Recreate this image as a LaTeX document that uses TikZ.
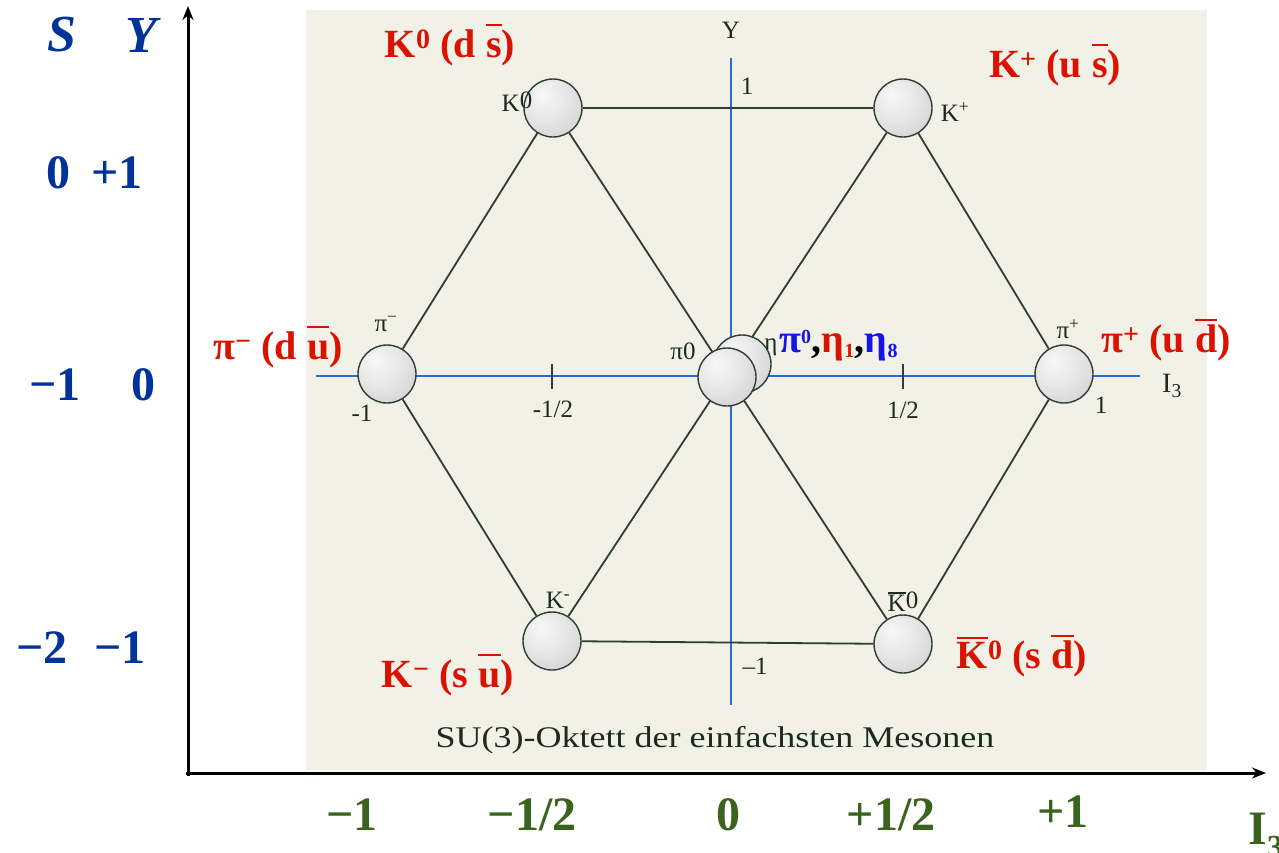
\documentclass[tikz,border=0pt]{standalone}
\usepackage{fontspec}
\setmainfont{Liberation Serif}
\usetikzlibrary{arrows.meta}
\pgfdeclarelayer{back}
\pgfdeclarelayer{lines}
\pgfsetlayers{back,lines,main}
\definecolor{redlab}{RGB}{218,18,0}
\definecolor{bluelab}{RGB}{0,51,153}
\definecolor{greenlab}{RGB}{58,100,30}
\definecolor{bgpic}{RGB}{241,241,232}
\definecolor{hexcol}{RGB}{45,62,50}
\definecolor{axblue}{RGB}{45,105,215}
\definecolor{innercol}{RGB}{30,42,30}
\definecolor{etablue}{RGB}{20,20,230}
\pgfdeclareradialshading{mesonball}{\pgfpoint{-10bp}{12bp}}{color(0bp)=(gray!6); color(18bp)=(gray!18); color(40bp)=(gray!38); color(58bp)=(gray!55); color(70bp)=(gray!60)}
% bar over a letter at a given height (in em)
\newcommand{\obar}[2]{\leavevmode\setbox0\hbox{#2}\rlap{\rule[#1em]{\wd0}{0.065em}}\box0}
\newcommand{\ob}[1]{\obar{0.78}{#1}}
\newcommand{\obK}[1]{\obar{0.73}{#1}}
\tikzset{
  ball/.style={circle, minimum size=58pt, inner sep=0pt, draw=hexcol, line width=1.4pt, shading=mesonball},
  hexline/.style={draw=hexcol, line width=1.8pt},
  blueaxis/.style={draw=axblue, line width=2.8pt},
  tickmark/.style={draw=hexcol, line width=2.2pt},
  mainaxis/.style={draw=black, line width=3pt, -{Stealth[length=14pt,width=11pt]}},
  redtext/.style={text=redlab, font=\fontsize{40}{40}\selectfont\bfseries, inner sep=0pt},
  bluetext/.style={text=bluelab, font=\fontsize{48}{48}\selectfont\bfseries, inner sep=0pt},
  greentext/.style={text=greenlab, font=\fontsize{48}{48}\selectfont\bfseries, inner sep=0pt},
  innertext/.style={text=innercol, font=\fontsize{25}{25}\selectfont, inner sep=0pt},
}
\begin{document}
\begin{tikzpicture}[x=1pt,y=-1pt]
\useasboundingbox (0,0) rectangle (1279,852);
\begin{pgfonlayer}{back}
\fill[white] (0,0) rectangle (1279,852);
\fill[bgpic] (306,10) rectangle (1207,770);
\end{pgfonlayer}

% balls
\node[ball] (eta) at (742,364) {};
\node[ball] (pi0) at (727,377) {};
\node[ball] (K0) at (553,108) {};
\node[ball] (Kp) at (903,108) {};
\node[ball] (pim) at (387,374) {};
\node[ball] (pip) at (1064,374) {};
\node[ball] (Km) at (552,641) {};
\node[ball] (Kb0) at (903,644) {};

% axis coordinates
\coordinate (bxl) at (316,376);
\coordinate (bxr) at (1140,376);
\coordinate (byt) at (731,58);
\coordinate (byb) at (731,705);
\coordinate (tml) at (552,364);
\coordinate (tmlb) at (552,389);
\coordinate (tmr) at (903,364);
\coordinate (tmrb) at (903,389);
\coordinate (orig) at (188,776);
\coordinate (ytop) at (188,6);
\coordinate (xorig) at (186,773);
\coordinate (xend) at (1266,773);

\begin{pgfonlayer}{lines}
\draw[blueaxis] (bxl) -- (bxr);
\draw[blueaxis] (byt) -- (byb);
\draw[tickmark] (tml) -- (tmlb);
\draw[tickmark] (tmr) -- (tmrb);
\draw[hexline] (K0) -- (Kp);
\draw[hexline] (Kp) -- (pip);
\draw[hexline] (pip) -- (Kb0);
\draw[hexline] (Kb0) -- (Km);
\draw[hexline] (Km) -- (pim);
\draw[hexline] (pim) -- (K0);
\draw[hexline] (K0) -- (Kb0);
\draw[hexline] (Kp) -- (Km);
\draw[mainaxis] (orig) -- (ytop);
\draw[mainaxis] (xorig) -- (xend);
\end{pgfonlayer}

% inner labels
\node[innertext] (lY) at (731,30) {Y};
\node[innertext] (lY1) at (747,86) {1};
\node[innertext] (lYm1) at (755,666) {\textendash1};
\node[innertext, font=\fontsize{28}{28}\selectfont] (lI3) at (1172,386) {I\textsubscript{3}};
\node[innertext] (lmh) at (553,409) {-1/2};
\node[innertext] (lph) at (903,410) {1/2};
\node[innertext] (lm1) at (362,413) {-1};
\node[innertext] (lp1) at (1101,405) {1};
\node[innertext] (nK0) at (517,102) {K\raisebox{3pt}{0}};
\node[innertext] (nKp) at (955,112) {K\textsuperscript{+}};
\node[innertext] (npim) at (386,324) {π\textsuperscript{\textminus}};
\node[innertext] (npi0) at (683,351) {π0};
\node[innertext] (neta) at (771,347) {η};
\node[innertext] (npip) at (1068,329) {π\textsuperscript{+}};
\node[innertext] (nKm) at (558,600) {K\textsuperscript{-}};
\node[innertext] (nKb0) at (903,602) {\obar{0.72}{K}\raisebox{3pt}{0}};
\node[innertext, font=\fontsize{30}{30}\selectfont] (cap) at (715,740) {\scalebox{1.2}[1]{SU(3)-Oktett der einfachsten Mesonen}};

% red labels
\node[redtext] (rK0) at (450,45) {K\textsuperscript{0} (d \ob{s})};
\node[redtext] (rKp) at (1055,65) {K\textsuperscript{+} (u \ob{s})};
\node[redtext] (rpim) at (278,347) {π\textsuperscript{\textminus} (d \ob{u})};
\node[redtext] (rpip) at (1166,340) {π\textsuperscript{+} (u \ob{d})};
\node[redtext] (rKm) at (448,675) {K\textsuperscript{\textminus} (s \ob{u})};
\node[redtext] (rKb0) at (1022,656) {\obK{K}\textsuperscript{0} (s \ob{d})};
\node[inner sep=0pt, font=\fontsize{40}{40}\selectfont\bfseries, anchor=west] (reta) at (779,346) {\textcolor{etablue}{π\textsuperscript{\fontsize{20}{20}\selectfont 0}},\textcolor{redlab}{η\textsubscript{\fontsize{20}{20}\selectfont 1}},\textcolor{etablue}{η\textsubscript{\fontsize{20}{20}\selectfont 8}}};

% left labels
\node[bluetext, font=\fontsize{52}{52}\selectfont\bfseries\itshape] (lS) at (62,35) {S};
\node[bluetext, font=\fontsize{52}{52}\selectfont\bfseries\itshape] (lYY) at (141,35) {Y};
\node[bluetext] (s0) at (58,173) {0};
\node[bluetext] (y1) at (117,173) {+1};
\node[bluetext] (sm1) at (55,385) {\textminus1};
\node[bluetext] (y0) at (143,385) {0};
\node[bluetext] (sm2) at (42,648) {\textminus2};
\node[bluetext] (ym1) at (120,648) {\textminus1};

% bottom labels
\node[greentext] (g1) at (352,815) {\textminus1};
\node[greentext] (g2) at (532,815) {\textminus1/2};
\node[greentext] (g3) at (728,815) {0};
\node[greentext] (g4) at (891,815) {+1/2};
\node[greentext] (g5) at (1063,812) {+1};
\node[greentext, anchor=west] (gI) at (1248,836) {I\textsubscript{3}};
\end{tikzpicture}
\end{document}
